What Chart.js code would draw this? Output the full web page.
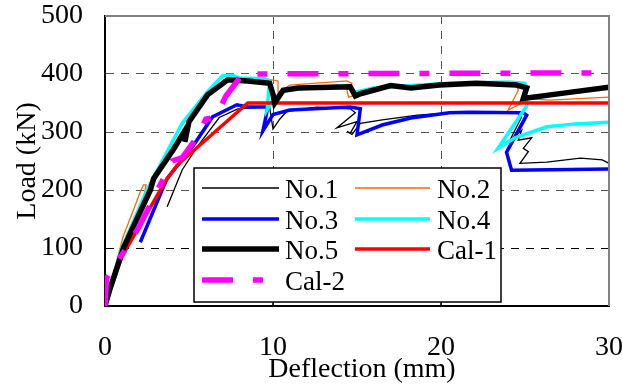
<!DOCTYPE html>
<html>
<head>
<meta charset="utf-8">
<script src="https://cdn.jsdelivr.net/npm/chart.js@4.4.1/dist/chart.umd.min.js"></script>
<style>
  html, body { margin: 0; padding: 0; background: #fff; }
</style>
</head>
<body>
<canvas id="myChart" width="623" height="387"></canvas>
<script>
// load-deflection curves, [deflection mm, load kN]
const no1 = [[3.7,171],[4.6,235],[5.5,275],[6.8,325],[7.9,340],[9.0,342],[9.8,343],[10.0,305],[10.4,322],[10.8,335],[12.6,343],[14.6,340],[14.9,333],[13.8,307],[15.0,318],[14.6,298],[14.4,301],[14.7,296],[15.2,315],[16.5,321],[18.6,329],[20.5,333],[22.5,335],[24.5,334],[24.8,326],[24.1,286],[24.8,303],[24.6,286],[25.4,290],[24.9,272],[25.2,266],[24.7,246],[26.3,248],[28.3,255],[29.6,252],[30,246]];
const no2 = [[0,0],[0.5,55],[1.07,119],[1.7,166],[2.1,197],[2.3,209],[2.45,209],[2.3,188],[3.0,225],[4.0,272],[5.0,318],[6.0,358],[7.0,386],[8.0,393],[9.5,392],[10.3,388],[10.3,367],[11.0,381],[14.4,388],[14.7,384],[14.4,372],[14.5,360],[15.2,366],[16.5,377],[20,381],[24.5,383],[24.6,372],[24.0,338],[25.3,357],[26.5,355],[30,360]];
const no3 = [[2.1,110],[3.4,200],[3.7,220],[5.2,274],[6.4,326],[7.85,347],[8.5,343],[9.7,343],[9.4,302],[10.0,330],[11.0,338],[14.6,343],[15.2,340],[15.0,295],[16.5,312],[18.2,324],[20.5,333],[21.7,334],[24.9,333],[25.1,329],[23.9,265],[24.2,234],[30,236]];
const no4 = [[0,0],[0.5,50],[1.0,100],[2.5,200],[3.5,255],[4.6,315],[6.1,369],[7.0,397],[7.6,398],[8.0,393],[9.5,392],[9.8,388],[9.65,338],[10.1,360],[10.8,372],[12,376],[14.5,380],[14.8,368],[16,376],[20,383],[24,386],[25.0,384],[25.1,345],[23.4,272],[24.4,290],[26.3,309],[28,314],[30,317]];
const no5 = [[0,0],[0.3,30],[1.1,100],[2.7,200],[2.9,220],[4.05,269],[4.9,309],[4.75,283],[5.0,318],[6.1,364],[7.3,390],[8.5,388],[9.8,384],[10.0,365],[10.1,350],[10.6,372],[11.5,376],[14.6,378],[14.9,362],[15.2,366],[17,380],[18.2,376],[19.9,381],[22.1,384],[24.5,381],[25.1,376],[24.9,358],[27.3,367],[30,377]];
const cal1 = [[0,0],[1.0,85],[3.6,215],[4.3,243],[8.5,350],[30,350]];
const cal2 = [[0,0],[0.1,48],[1.2,97],[2.0,135],[3.5,221],[4.0,250],[4.6,256],[5.5,292],[6.0,322],[6.6,326],[7.2,362],[8.2,400],[30,402]];

const xTicks = [0, 10, 20, 30];
const yTicks = [0, 100, 200, 300, 400, 500];

const FONT = "'Liberation Serif', 'Times New Roman', serif";

const pts = (arr) => arr.map((p) => ({ x: p[0], y: p[1] }));

function series(label, data, color, width, dash) {
  return {
    label: label,
    data: pts(data),
    borderColor: color,
    borderWidth: width,
    borderDash: dash || [],
    showLine: true,
    pointRadius: 0,
    tension: 0,
    fill: false,
  };
}

// first in list is drawn on top
const datasets = [
  series("Cal-2", cal2, "#ff00ff", 5.5, [31, 20, 10, 20]),
  series("No.5", no5, "#000000", 5.5),
  series("Cal-1", cal1, "#ff0000", 3.5),
  series("No.4", no4, "#00ffff", 3.5),
  series("No.3", no3, "#0000ff", 3.5),
  series("No.1", no1, "#000000", 1.3),
  series("No.2", no2, "#ff6600", 1.3),
];

const legendItems = [
  ["No.1", 0, 0], ["No.2", 1, 0],
  ["No.3", 0, 1], ["No.4", 1, 1],
  ["No.5", 0, 2], ["Cal-1", 1, 2],
  ["Cal-2", 0, 3],
];

const decor = {
  id: "decor",
  afterDraw(chart) {
    const { ctx, chartArea: a, scales } = chart;
    ctx.save();
    ctx.setLineDash([]);

    // grey frame on top and right side of the plot
    ctx.fillStyle = "#808080";
    ctx.fillRect(a.left, a.top - 1, a.right - a.left, 2);
    ctx.fillRect(a.right - 1, a.top - 1, 2, a.bottom - a.top + 1);

    // inward ticks on x axis
    ctx.fillStyle = "#000";
    [10, 20].forEach((v) => {
      const px = scales.x.getPixelForValue(v);
      ctx.fillRect(px - 0.75, a.bottom - 5, 1.5, 5);
    });

    // legend box
    const bx = 194, by = 168, bw = 307, bh = 134;
    ctx.fillStyle = "#fff";
    ctx.fillRect(bx, by, bw, bh);
    ctx.strokeStyle = "#000";
    ctx.lineWidth = 1.5;
    ctx.strokeRect(bx, by, bw, bh);

    const cols = [{ x0: 202, x1: 279, tx: 285 }, { x0: 355, x1: 430, tx: 437 }];
    const rows = [188, 219, 249, 280];
    ctx.font = "27px " + FONT;
    ctx.textAlign = "left";
    ctx.textBaseline = "alphabetic";
    legendItems.forEach(([label, c, r]) => {
      const ds = chart.data.datasets.find((d) => d.label === label);
      const col = cols[c];
      const y = rows[r];
      ctx.strokeStyle = ds.borderColor;
      ctx.lineWidth = ds.borderWidth;
      ctx.setLineDash(ds.borderDash);
      ctx.beginPath();
      ctx.moveTo(col.x0, y);
      ctx.lineTo(col.x1, y);
      ctx.stroke();
      ctx.setLineDash([]);
      ctx.fillStyle = "#000";
      ctx.fillText(label, col.tx, y + 10);
    });

    // axis titles
    ctx.font = "28px " + FONT;
    ctx.fillStyle = "#000";
    ctx.textAlign = "center";
    ctx.fillText("Deflection (mm)", 362, 377);
    ctx.translate(35, 161);
    ctx.rotate(-Math.PI / 2);
    ctx.fillText("Load (kN)", 0, 0);
    ctx.restore();
  },
};

const gridColor = (ends, dark) => (c) => {
  const v = c.tick.value;
  if (ends.includes(v)) return "rgba(0,0,0,0)";
  return v === dark ? "#000" : "#555";
};

const noPad = (s) => {
  s.paddingLeft = 0;
  s.paddingRight = 0;
  s.paddingTop = 0;
  s.paddingBottom = 0;
};

new Chart(document.getElementById("myChart"), {
  type: "scatter",
  data: { datasets: datasets },
  options: {
    responsive: false,
    animation: false,
    layout: { padding: { top: 16, right: 14, left: 0, bottom: 0 } },
    plugins: { legend: { display: false }, tooltip: { enabled: false } },
    scales: {
      x: {
        type: "linear",
        min: 0,
        max: 30,
        afterFit: (s) => { s.height = 81; noPad(s); },
        afterBuildTicks: (s) => { s.ticks = xTicks.map((v) => ({ value: v })); },
        ticks: { padding: 25, color: "#000", font: { family: FONT, size: 28 }, maxRotation: 0 },
        grid: { color: gridColor([0, 30], null), lineWidth: 1, drawTicks: false },
        border: { display: true, color: "#000", width: 2, dash: [8, 7] },
      },
      y: {
        type: "linear",
        min: 0,
        max: 500,
        afterFit: (s) => { s.width = 105; noPad(s); },
        afterBuildTicks: (s) => { s.ticks = yTicks.map((v) => ({ value: v })); },
        ticks: { padding: 22, color: "#000", font: { family: FONT, size: 28 } },
        grid: { color: gridColor([0, 500], 100), lineWidth: 1, drawTicks: false },
        border: { display: true, color: "#000", width: 2, dash: [8, 7] },
      },
    },
  },
  plugins: [decor],
});
</script>
</body>
</html>
